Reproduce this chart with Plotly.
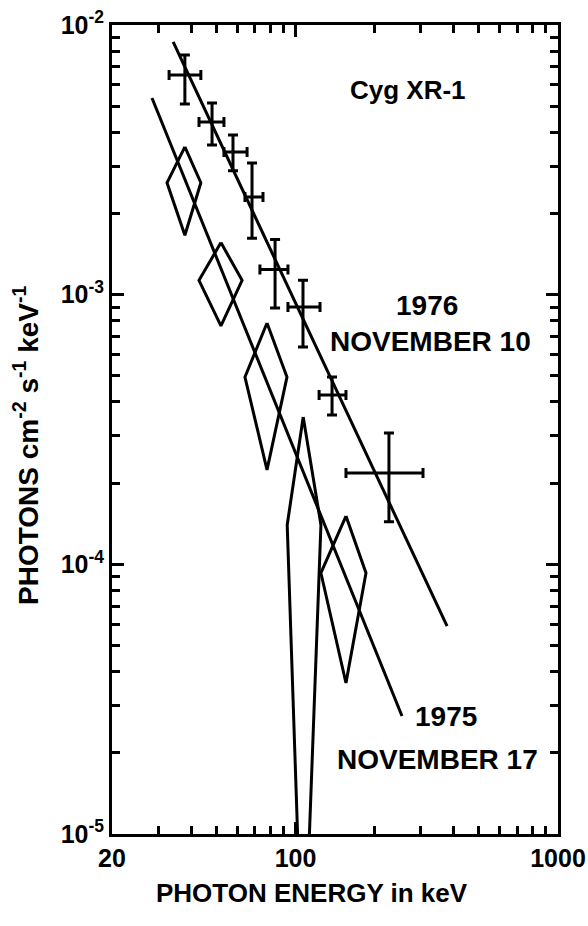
import plotly.graph_objects as go

# ---- 1976 November 10 (crosses) ----
e76 = [37.9, 48.1, 57.8, 68.3, 83.6, 106.8, 137.8, 227.0]
e76_lo = [33.0, 42.9, 53.4, 64.2, 73.2, 93.6, 123.0, 155.7]
e76_hi = [43.6, 53.4, 65.4, 75.2, 93.6, 124.0, 155.7, 306.0]
f76 = [6.53e-3, 4.37e-3, 3.38e-3, 2.30e-3, 1.24e-3, 9.0e-4, 4.25e-4, 2.18e-4]
f76_lo = [5.09e-3, 3.59e-3, 2.88e-3, 1.62e-3, 8.93e-4, 6.4e-4, 3.58e-4, 1.44e-4]
f76_hi = [7.74e-3, 5.14e-3, 3.91e-3, 3.08e-3, 1.60e-3, 1.13e-3, 4.95e-4, 3.07e-4]

# ---- 1975 November 17 (diamonds) ----
e75 = [37.9, 52.0, 77.9, 107.0, 155.7]
e75_lo = [32.4, 42.9, 64.2, 93.0, 125.0]
e75_hi = [43.6, 62.6, 92.8, 125.0, 185.6]
f75 = [2.60e-3, 1.13e-3, 4.95e-4, 1.40e-4, 9.29e-5]
f75_lo = [1.66e-3, 7.66e-4, 2.24e-4, 2.4e-6, 3.63e-5]
f75_hi = [3.53e-3, 1.56e-3, 7.85e-4, 3.52e-4, 1.51e-4]

# ---- power-law fits (end points) ----
fit76_e = [34.2, 378.0]
fit76_f = [8.65e-3, 5.9e-5]
fit75_e = [28.4, 254.5]
fit75_f = [5.36e-3, 2.74e-5]

# ---- ticks ----
x_major = [20, 100, 1000]
x_major_text = ["20", "100", "1000"]
x_minor = [30, 40, 50, 60, 70, 80, 90, 200, 300, 400, 500, 600, 700, 800, 900]
y_major = [1e-5, 1e-4, 1e-3, 1e-2]
y_major_text = ["10<sup>-5</sup>", "10<sup>-4</sup>", "10<sup>-3</sup>", "10<sup>-2</sup>"]
y_minor = [m * d for d in (1e-5, 1e-4, 1e-3) for m in range(2, 10)]

FONT = "Liberation Sans, Arial, sans-serif"
LW = 3

fig = go.Figure()

# fitted lines
fig.add_trace(go.Scatter(x=fit76_e, y=fit76_f, mode="lines",
                         line=dict(color="black", width=LW), hoverinfo="skip"))
fig.add_trace(go.Scatter(x=fit75_e, y=fit75_f, mode="lines",
                         line=dict(color="black", width=LW), hoverinfo="skip"))

# diamonds
dx, dy = [], []
for e, lo, hi, f, flo, fhi in zip(e75, e75_lo, e75_hi, f75, f75_lo, f75_hi):
    dx += [e, hi, e, lo, e, None]
    dy += [fhi, f, flo, f, fhi, None]
fig.add_trace(go.Scatter(x=dx, y=dy, mode="lines",
                         line=dict(color="black", width=LW), hoverinfo="skip"))

# crosses
fig.add_trace(go.Scatter(
    x=e76, y=f76, mode="markers",
    marker=dict(size=1, color="black"),
    error_x=dict(type="data", symmetric=False,
                 array=[h - e for h, e in zip(e76_hi, e76)],
                 arrayminus=[e - l for e, l in zip(e76, e76_lo)],
                 width=5, thickness=3, color="black"),
    error_y=dict(type="data", symmetric=False,
                 array=[h - f for h, f in zip(f76_hi, f76)],
                 arrayminus=[f - l for f, l in zip(f76, f76_lo)],
                 width=5, thickness=3, color="black"),
))

axis_common = dict(
    showline=True, linewidth=3, linecolor="black", mirror="allticks",
    ticks="inside", ticklen=12, tickwidth=2.5, tickcolor="black",
    showgrid=False, zeroline=False, automargin=False,
    tickfont=dict(family=FONT, size=25, color="black", weight="bold"),
)

fig.update_xaxes(type="log", range=[1.30103, 3.0],
                 tickmode="array", tickvals=x_major, ticktext=x_major_text,
                 minor=dict(tickmode="array", tickvals=x_minor, ticks="inside",
                            ticklen=8, tickwidth=2.5, tickcolor="black"),
                 **axis_common)
fig.update_yaxes(type="log", range=[-5, -2],
                 tickmode="array", tickvals=y_major, ticktext=y_major_text,
                 minor=dict(tickmode="array", tickvals=y_minor, ticks="inside",
                            ticklen=8, tickwidth=2.5, tickcolor="black"),
                 **axis_common)

L, R, T, B = 112, 30, 25, 92
PW, PH = 588 - L - R, 926 - T - B


def px(x, y):
    return (x - L) / PW, 1 - (y - T) / PH


labels = [
    ("Cyg XR-1", 408, 90, 26),
    ("1976", 427, 306, 28),
    ("NOVEMBER 10", 430, 341, 28),
    ("1975", 446, 716, 28),
    ("NOVEMBER 17", 437, 759, 28),
]
for txt, x, y, s in labels:
    ax, ay = px(x, y)
    fig.add_annotation(text=txt, x=ax, y=ay, xref="paper", yref="paper",
                       showarrow=False, xanchor="center", yanchor="middle",
                       font=dict(family=FONT, size=s, color="black", weight="bold"))

# axis titles
ax, ay = px(312, 893)
fig.add_annotation(text="PHOTON ENERGY in keV", x=ax, y=ay, xref="paper", yref="paper",
                   showarrow=False, xanchor="center", yanchor="middle",
                   font=dict(family=FONT, size=26, color="black", weight="bold"))
ax, ay = px(26, 445)
fig.add_annotation(text="PHOTONS cm<sup>-2</sup> s<sup>-1</sup> keV<sup>-1</sup>",
                   x=ax, y=ay, xref="paper", yref="paper", textangle=-90,
                   showarrow=False, xanchor="center", yanchor="middle",
                   font=dict(family=FONT, size=28, color="black", weight="bold"))

fig.update_layout(width=588, height=926, margin=dict(l=L, r=R, t=T, b=B),
                  plot_bgcolor="white", paper_bgcolor="white", showlegend=False)

fig.write_html("out.html")
